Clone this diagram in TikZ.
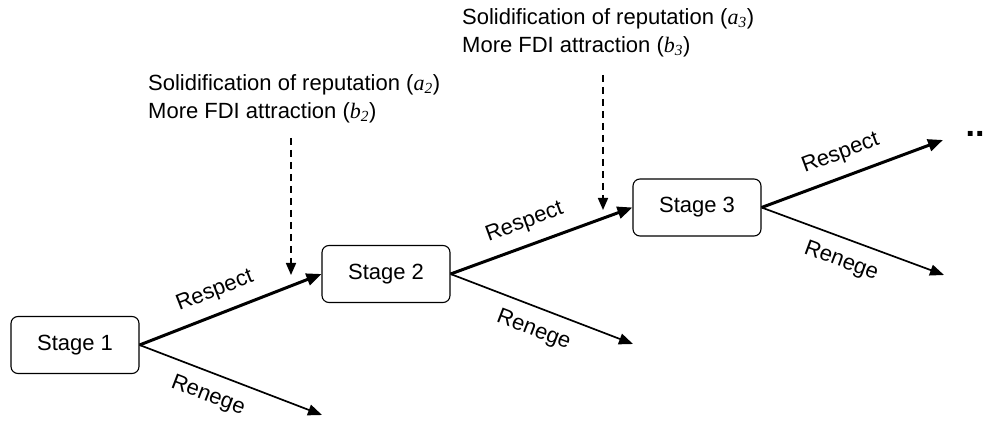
\documentclass[tikz,border=0pt]{standalone}
\usepackage{fontspec}
\setmainfont{Liberation Sans}
\newfontfamily\varfont{Liberation Serif}
\usetikzlibrary{arrows.meta}

\newcommand{\var}[2]{({\varfont\itshape #1\textsubscript{#2}})}

\begin{document}
\begin{tikzpicture}[x=1pt, y=1pt,
        stage/.style = {rectangle, draw, rounded corners=7pt, line width=1.1pt, minimum width=128pt, minimum height=57pt, font=\fontsize{22}{26}\selectfont},
        respect/.style = {line width=3pt, -{Triangle[length=15pt, width=12pt]}},
        renege/.style = {line width=1.7pt, -{Triangle[length=14pt, width=11pt]}},
        effect/.style = {line width=1.7pt, dash pattern=on 7pt off 5pt, -{Triangle[length=12pt, width=10pt]}},
        lbl/.style = {font=\fontsize{22}{26}\selectfont, sloped},
        note/.style = {anchor=west, align=left, inner sep=0pt, font=\fontsize{22}{28}\selectfont}]
    \useasboundingbox (0, 0) rectangle (991, 423);

    \node[stage] (s1) at (75, 78) {Stage 1};
    \node[stage] (s2) at (386, 149) {Stage 2};
    \node[stage] (s3) at (697, 215.5) {Stage 3};
    \node[font=\fontsize{34}{34}\selectfont\bfseries] (more) at (975, 289) {..};

    \coordinate (r1) at (322, 8);
    \coordinate (r2) at (633, 79);
    \coordinate (r3) at (944, 148);
    \coordinate (go) at (943, 283);

    \draw[respect] (s1.east) -- node[lbl, above=8pt, pos=.46] {Respect} (s2.west);
    \draw[renege] (s1.east) -- node[lbl, below=9pt, pos=.42] {Renege} (r1);
    \draw[respect] (s2.east) -- node[lbl, above=8pt, pos=.45] {Respect} (s3.west);
    \draw[renege] (s2.east) -- node[lbl, below=9pt, pos=.5] {Renege} (r2);
    \draw[respect] (s3.east) -- node[lbl, above=8pt, pos=.48] {Respect} (go);
    \draw[renege] (s3.east) -- node[lbl, below=9pt, pos=.48] {Renege} (r3);

    \node[note] (t2) at (148, 324) {Solidification of reputation \var{a}{2}\\More FDI attraction \var{b}{2}};
    \node[note] (t3) at (462, 390) {Solidification of reputation \var{a}{3}\\More FDI attraction \var{b}{3}};

    \coordinate (d2a) at (291, 285);
    \coordinate (d2b) at (291, 148);
    \coordinate (d3a) at (603, 348);
    \coordinate (d3b) at (603, 213);
    \draw[effect] (d2a) -- (d2b);
    \draw[effect] (d3a) -- (d3b);
\end{tikzpicture}
\end{document}
